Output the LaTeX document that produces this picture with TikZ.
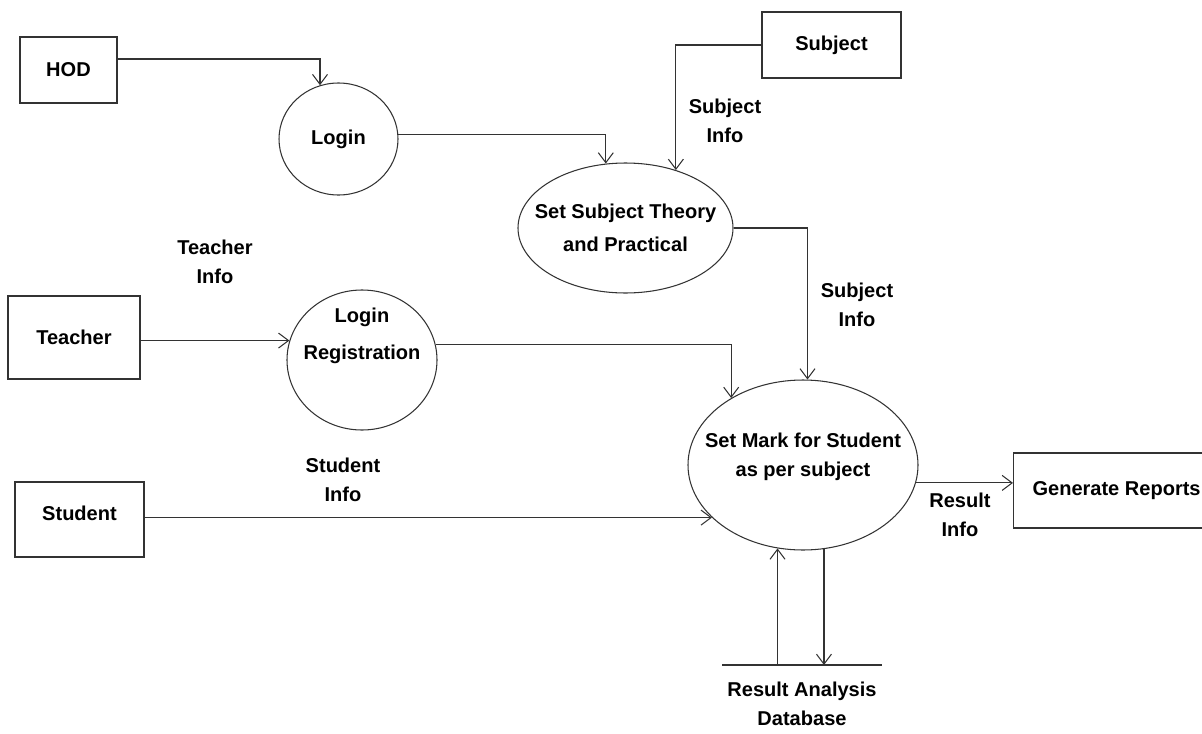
\documentclass[tikz,border=0pt]{standalone}
\usepackage{fontspec}
\setmainfont{Liberation Sans}
\usetikzlibrary{positioning,arrows.meta,shapes.geometric}

\begin{document}
\begin{tikzpicture}[
  x=0.2mm, y=-0.2mm,
  font=\fontsize{11.4}{16.4}\selectfont\bfseries,
  entity/.style={draw=black!80, line width=0.6pt, rectangle, inner sep=2pt},
  process/.style={draw=black!80, line width=0.6pt, ellipse, inner sep=0pt, align=center},
  lbl/.style={align=center, inner sep=0pt},
  flow/.style={-{Straight Barb[length=2mm, width=3mm]}, line width=0.6pt, black!80},
]
\useasboundingbox (0,0) rectangle (1202,734);

% external entities
\node[entity, minimum width=19.4mm, minimum height=13.2mm] (hod) at (68.5,70) {HOD};
\node[entity, minimum width=27.8mm, minimum height=13.2mm] (subj) at (831.5,45) {Subject};
\node[entity, minimum width=26.4mm, minimum height=16.6mm] (teacher) at (74,337.5) {Teacher};
\node[entity, minimum width=25.8mm, minimum height=15mm, text depth=2.6mm] (student)
  at (79.5,519.5) {Student};
\node[entity, anchor=west, inner xsep=3.8mm, minimum height=15mm] (gen) at (1013,490.5)
  {Generate Reports};

% processes
\node[process, minimum width=23.8mm, minimum height=22.4mm] (login) at (338.5,139) {Login};
\node[process, minimum width=43mm, minimum height=26mm,
  label={[lbl]center:Set Subject Theory\\[2pt]and Practical}] (setsub) at (625.5,228) {};
\node[process, minimum width=30mm, minimum height=28mm,
  label={[lbl, yshift=4.8mm]center:Login\\[5pt]Registration}] (logreg) at (362,360) {};
\node[process, minimum width=46mm, minimum height=34mm,
  label={[lbl, yshift=1.6mm]center:Set Mark for Student\\as per subject}] (setmark)
  at (803,465) {};

% data store
\coordinate (dbl) at (722,665);
\coordinate (dbr) at (882,665);
\draw[line width=0.6pt, black!80] (dbl) -- (dbr);
\node[lbl] (db) at (802,704) {Result Analysis\\Database};

% flows
\draw[flow] ([yshift=2.2mm]hod.east) -| (login.109);
\draw[flow] (login.4) -| (setsub.107);
\draw[flow] (subj.west) -| (setsub.49);
\draw[flow] (setsub.east) -| (setmark.87);
\draw[flow] (teacher.east |- logreg.165) -- (logreg.165);
\draw[flow] (logreg.12) -| (setmark.137);
\draw[flow] (student.east |- setmark.210) -- (setmark.210);
\draw[flow] (setmark.-9) -- (setmark.-9 -| gen.west);
\draw[flow] (setmark.253 |- dbl) -- (setmark.253);
\draw[flow] (setmark.284) -- (setmark.284 |- dbl);

% flow labels
\node[lbl] (tinfo) at (215,262) {Teacher\\Info};
\node[lbl] (sinfo1) at (725,121) {Subject\\Info};
\node[lbl] (sinfo2) at (857,305) {Subject\\Info};
\node[lbl] (stinfo) at (343,480) {Student\\Info};
\node[lbl] (rinfo) at (960,515) {Result\\Info};
\end{tikzpicture}
\end{document}
